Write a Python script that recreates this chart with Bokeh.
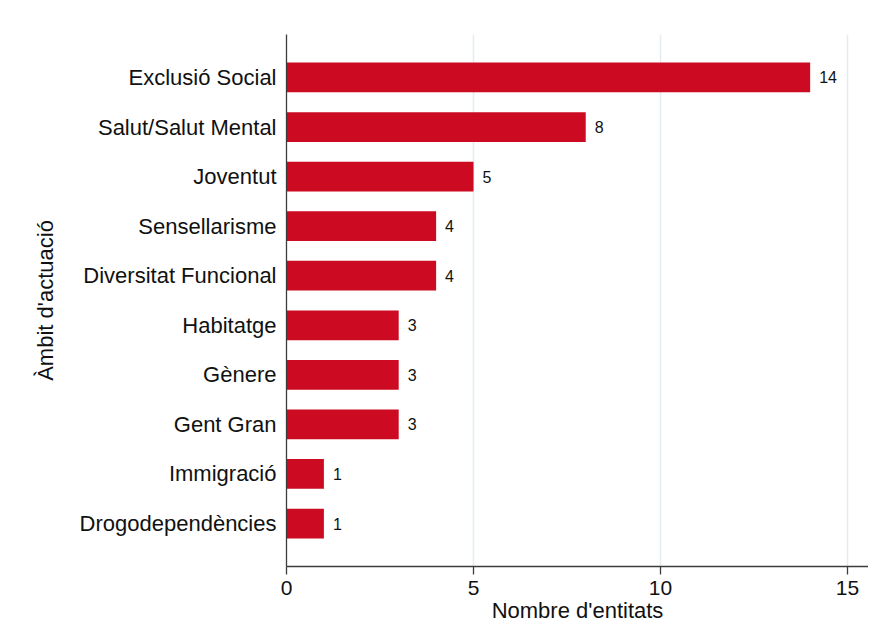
from bokeh.plotting import figure
from bokeh.models import Range1d, FixedTicker, ColumnDataSource, LabelSet
from bokeh.core.properties import value
from bokeh.embed import file_html
from bokeh.resources import INLINE

categories = ["Exclusió Social", "Salut/Salut Mental", "Joventut", "Sensellarisme",
              "Diversitat Funcional", "Habitatge", "Gènere", "Gent Gran",
              "Immigració", "Drogodependències"]
values = [14, 8, 5, 4, 4, 3, 3, 3, 1, 1]
x_ticks = [0, 5, 10, 15]

n = len(categories)
ypos = [n - i for i in range(n)]
src = ColumnDataSource(dict(y=ypos, v=values, lab=[str(v) for v in values]))

FONT = "Liberation Sans"

p = figure(width=868, height=636, output_backend="svg", toolbar_location=None,
           x_range=Range1d(0, 15.56), y_range=Range1d(0.133, n + 0.867),
           min_border_left=286, min_border_top=34, min_border_bottom=70,
           min_border_right=0)
p.outline_line_color = None
p.background_fill_color = "white"
p.border_fill_color = "white"

p.hbar(y="y", right="v", left=0, height=0.6, source=src,
       fill_color="#CC0A21", line_color=None)

labels = LabelSet(x="v", y="y", text="lab", source=src, x_offset=9,
                  text_align="left", text_baseline="middle",
                  text_font=value(FONT), text_font_size=value("16px"),
                  text_color="#111111")
p.add_layout(labels)

# x axis
xa = p.xaxis[0]
xa.ticker = FixedTicker(ticks=x_ticks)
xa.axis_label = "Nombre d'entitats"
xa.axis_label_text_font = FONT
xa.axis_label_text_font_size = "22px"
xa.axis_label_text_font_style = "normal"
xa.axis_label_text_color = "#111111"
xa.axis_label_standoff = 0
xa.major_label_text_font = FONT
xa.major_label_text_font_size = "21px"
xa.major_label_text_color = "#111111"
xa.major_label_standoff = 6
xa.major_tick_out = 8
xa.major_tick_in = 0
xa.minor_tick_line_color = None
xa.axis_line_color = "#3c3c3c"
xa.major_tick_line_color = "#3c3c3c"
xa.axis_line_width = 1.3
xa.major_tick_line_width = 1.3

# y axis
ya = p.yaxis[0]
ya.ticker = FixedTicker(ticks=ypos)
ya.major_label_overrides = {y: c for y, c in zip(ypos, categories)}
ya.axis_label = "Àmbit d'actuació"
ya.axis_label_text_font = FONT
ya.axis_label_text_font_size = "22px"
ya.axis_label_text_font_style = "normal"
ya.axis_label_text_color = "#111111"
ya.axis_label_standoff = 19
ya.major_label_text_font = FONT
ya.major_label_text_font_size = "22px"
ya.major_label_text_color = "#111111"
ya.major_label_standoff = 10
ya.major_tick_out = 0
ya.major_tick_in = 0
ya.minor_tick_line_color = None
ya.axis_line_color = "#3c3c3c"
ya.axis_line_width = 1.3

p.xgrid.ticker = FixedTicker(ticks=[5, 10, 15])
p.xgrid.grid_line_color = "#E3ECF0"
p.xgrid.grid_line_width = 1.5
p.ygrid.grid_line_color = None

open("out.html", "w").write(file_html(p, INLINE))
